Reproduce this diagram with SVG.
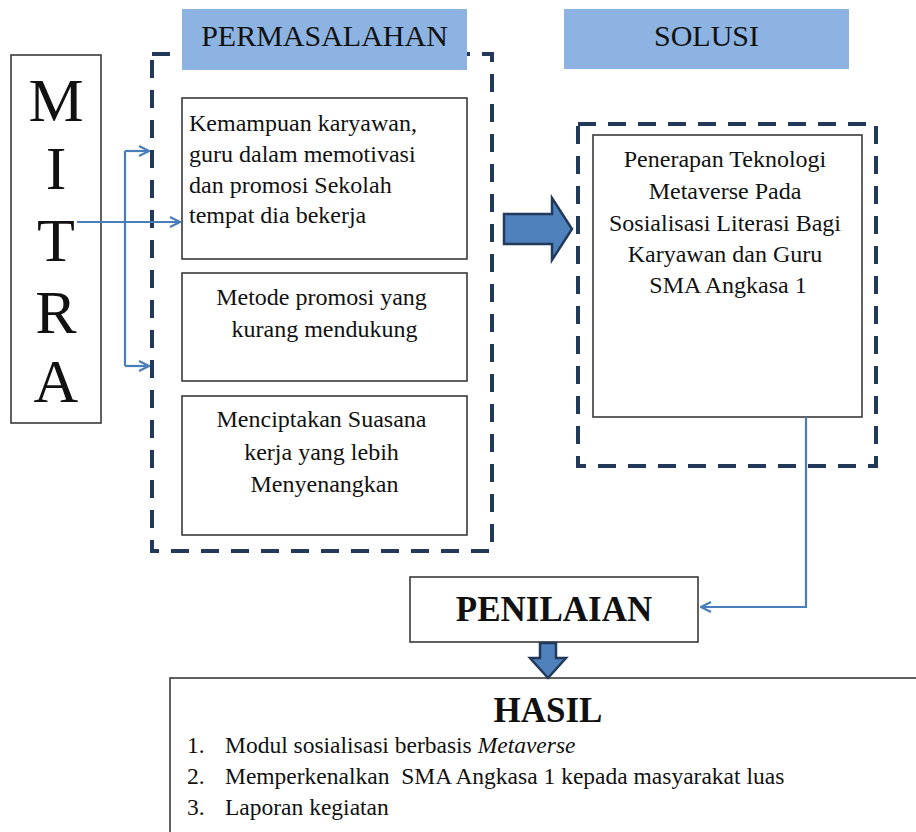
<svg xmlns="http://www.w3.org/2000/svg" width="916" height="832" viewBox="0 0 916 832">
<style>
text{font-family:'Liberation Serif','Times New Roman',Times,serif;fill:#111}
.box{fill:#fff;stroke:#3a3a3a;stroke-width:1.6}
.dash{fill:none;stroke:#22395a;stroke-width:4;stroke-dasharray:18 12}
.hdr{fill:#8db3e2}
.con{fill:none;stroke:#4a7ebb;stroke-width:2.2}
.blk{fill:#4f81bd;stroke:#22395a;stroke-width:2.5;stroke-linejoin:miter}
</style>
<defs>
<marker id="open" viewBox="0 0 12 12" refX="11" refY="6" markerWidth="12" markerHeight="12" markerUnits="userSpaceOnUse" orient="auto">
<path d="M1,1 L11,6 L1,11" fill="none" stroke="#4a7ebb" stroke-width="2.2"/>
</marker>
</defs>
<rect width="916" height="832" fill="#fff"/>

<g id="mitra">
<rect class="box" x="11" y="55" width="90" height="368"/>
<text x="56" y="121" font-size="62" text-anchor="middle">M</text>
<text x="56" y="189" font-size="62" text-anchor="middle">I</text>
<text x="56" y="261" font-size="62" text-anchor="middle">T</text>
<text x="56" y="333" font-size="62" text-anchor="middle">R</text>
<text x="56" y="402" font-size="62" text-anchor="middle">A</text>
</g>

<g id="permasalahan">
<rect class="dash" x="152" y="54" width="340" height="497"/>
<rect class="hdr" x="182" y="9" width="285" height="61"/>
<text x="324.5" y="46" font-size="30" text-anchor="middle">PERMASALAHAN</text>
</g>

<g id="masalah1">
<rect class="box" x="182" y="98" width="285" height="161"/>
<text font-size="24" x="189">
<tspan x="189" y="131">Kemampuan karyawan,</tspan>
<tspan x="189" y="162">guru dalam memotivasi</tspan>
<tspan x="189" y="193">dan promosi Sekolah</tspan>
<tspan x="189" y="223">tempat dia bekerja</tspan>
</text>
</g>

<g id="masalah2">
<rect class="box" x="182" y="273" width="285" height="108"/>
<text font-size="24" text-anchor="middle">
<tspan x="324.5" y="305">Metode promosi yang</tspan>
<tspan x="324.5" y="337">kurang mendukung</tspan>
</text>
</g>

<g id="masalah3">
<rect class="box" x="182" y="396" width="285" height="139"/>
<text font-size="24" text-anchor="middle">
<tspan x="324.5" y="427">Menciptakan Suasana</tspan>
<tspan x="324.5" y="460">kerja yang lebih</tspan>
<tspan x="324.5" y="492">Menyenangkan</tspan>
</text>
</g>

<g id="solusi-header">
<rect class="hdr" x="564" y="9" width="285" height="60"/>
<text x="706.5" y="46" font-size="30" text-anchor="middle">SOLUSI</text>
</g>

<g id="solusi">
<rect class="dash" x="578" y="124" width="298" height="342"/>
<rect class="box" x="593" y="135" width="269" height="282"/>
<text font-size="24" text-anchor="middle">
<tspan x="728" y="167">Penerapan Teknologi</tspan>
<tspan x="728" y="199">Metaverse Pada</tspan>
<tspan x="728" y="231">Sosialisasi Literasi Bagi</tspan>
<tspan x="728" y="262">Karyawan dan Guru</tspan>
<tspan x="728" y="293">SMA Angkasa 1</tspan>
</text>
</g>

<g id="penilaian">
<rect class="box" x="410" y="577" width="288" height="65"/>
<text x="554" y="621" font-size="35" font-weight="bold" text-anchor="middle">PENILAIAN</text>
</g>

<g id="hasil">
<rect class="box" x="170" y="678" width="760" height="200"/>
<text x="548" y="722" font-size="35" font-weight="bold" text-anchor="middle">HASIL</text>
<text font-size="23.5">
<tspan x="187" y="753">1.</tspan><tspan x="225" y="753">Modul sosialisasi berbasis <tspan font-style="italic">Metaverse</tspan></tspan>
</text>
<text font-size="23.5">
<tspan x="187" y="784">2.</tspan><tspan x="225" y="784" xml:space="preserve">Memperkenalkan  SMA Angkasa 1 kepada masyarakat luas</tspan>
</text>
<text font-size="23.5">
<tspan x="187" y="815">3.</tspan><tspan x="225" y="815">Laporan kegiatan</tspan>
</text>
</g>

<g id="connectors">
<path class="con" d="M77,222 H180" marker-end="url(#open)"/>
<path class="con" d="M125,151 V366"/>
<path class="con" d="M125,151 H149" marker-end="url(#open)"/>
<path class="con" d="M125,366 H149" marker-end="url(#open)"/>
<path class="con" d="M806,417 V607 H701" marker-end="url(#open)"/>
<polygon class="blk" points="504,214 552,214 552,198 572,229 552,260 552,244 504,244"/>
<polygon class="blk" points="540,643 556,643 556,658 566,658 548,678 530,658 540,658"/>
</g>
</svg>
